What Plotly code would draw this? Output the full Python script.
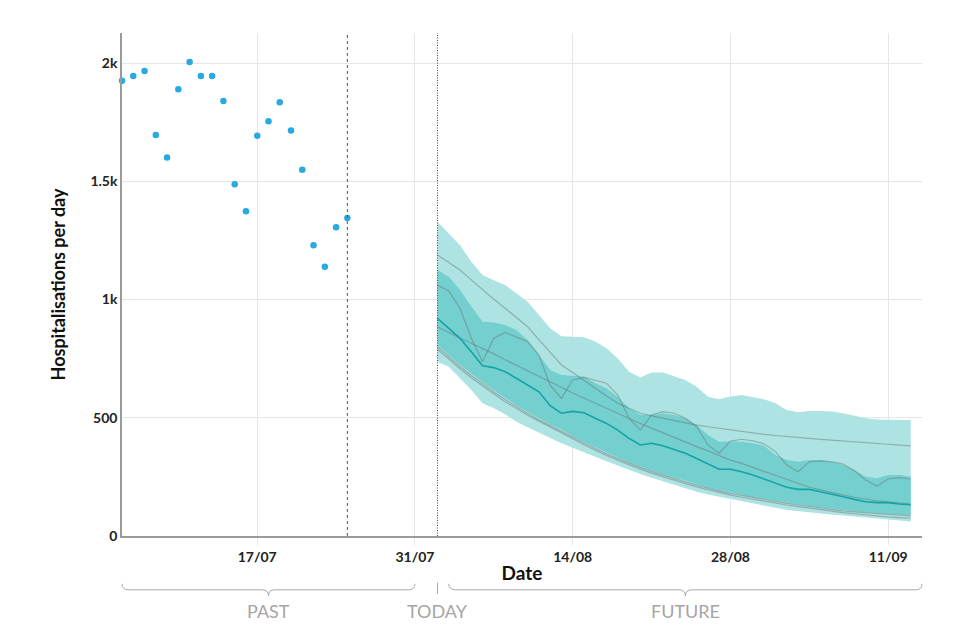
import pandas as pd
import plotly.graph_objects as go

# ---------------- data ----------------
past_start = "2021-07-05"
past_values = [1925, 1945, 1966, 1696, 1601, 1889, 2004, 1945, 1945, 1839, 1487,
               1373, 1693, 1754, 1834, 1715, 1549, 1230, 1139, 1306, 1345]

forecast_start = "2021-08-02"
median = [920, 880, 836, 779, 720, 712, 695, 667, 638, 610, 551, 519, 527, 521, 498,
          476, 448, 413, 385, 392, 382, 366, 350, 328, 304, 282, 282, 272, 258, 241,
          223, 206, 197, 197, 187, 178, 166, 155, 145, 141, 141, 135, 132]
outer_hi = [1329, 1280, 1230, 1160, 1104, 1082, 1061, 1026, 991, 934, 878, 845, 843,
            840, 822, 794, 751, 695, 670, 691, 691, 674, 660, 631, 589, 578, 590, 596,
            586, 578, 561, 533, 523, 529, 529, 526, 519, 509, 498, 493, 493, 493, 490]
outer_lo = [737, 716, 667, 617, 561, 540, 515, 483, 458, 436, 414, 392, 372, 353, 335,
            316, 297, 279, 262, 246, 230, 215, 201, 187, 176, 166, 157, 147, 137, 128,
            119, 110, 105, 100, 95, 90, 85, 81, 77, 73, 69, 65, 61]
inner_hi = [1125, 1096, 1040, 970, 906, 903, 892, 871, 829, 765, 702, 681, 677, 674,
            646, 625, 589, 540, 512, 512, 519, 512, 498, 469, 427, 399, 400, 399, 392,
            381, 342, 321, 314, 321, 321, 314, 300, 279, 251, 244, 258, 258, 251]
inner_lo = [808, 765, 724, 686, 650, 615, 583, 553, 524, 497, 472, 450, 423, 398, 375,
            353, 332, 312, 294, 277, 261, 246, 232, 219, 206, 194, 183, 174, 165, 156,
            148, 141, 134, 127, 121, 115, 110, 105, 101, 97, 94, 91, 89]
scen_weekly = [1061, 1036, 963, 836, 737, 836, 861, 843, 822, 765, 638, 582, 660, 671,
               660, 646, 596, 498, 448, 512, 526, 519, 498, 462, 385, 350, 401, 409,
               402, 389, 357, 300, 272, 314, 318, 314, 304, 276, 237, 211, 241, 247, 240]
scen_high = [1188, 1156, 1125, 1083, 1040, 1001, 963, 924, 885, 830, 775, 723, 691, 657,
             624, 592, 561, 540, 519, 508, 498, 488, 478, 469, 462, 455, 448, 441, 435,
             430, 425, 420, 416, 413, 409, 406, 402, 399, 395, 392, 388, 384, 381]
scen_mid = [885, 860, 836, 815, 794, 770, 745, 722, 700, 678, 655, 629, 605, 583, 562,
            540, 518, 497, 476, 456, 436, 416, 397, 378, 360, 340, 321, 307, 290, 272,
            254, 240, 220, 206, 195, 183, 173, 164, 155, 149, 144, 138, 135]
scen_low1 = [800, 758, 717, 679, 643, 609, 577, 547, 518, 491, 467, 445, 418, 393, 370,
             348, 328, 308, 290, 273, 257, 242, 228, 215, 202, 191, 180, 171, 162, 153,
             145, 138, 131, 124, 118, 112, 106, 102, 98, 94, 91, 88, 85]
scen_low2 = [790, 748, 707, 669, 633, 600, 568, 539, 511, 485, 461, 438, 411, 386, 363,
             341, 321, 301, 283, 266, 250, 235, 221, 208, 196, 184, 173, 164, 155, 146,
             138, 131, 124, 117, 111, 105, 99, 94, 89, 85, 81, 78, 75]

last_data_date = "2021-07-25"
today_date = "2021-08-02"
x_range = ["2021-07-05", "2021-09-14"]
y_range = [0, 2127]

x_tickvals = ["2021-07-17", "2021-07-31", "2021-08-14", "2021-08-28", "2021-09-11"]
x_ticktext = ["17/07", "31/07", "14/08", "28/08", "11/09"]
y_tickvals = [0, 500, 1000, 1500, 2000]
y_ticktext = ["0", "500", "1k", "1.5k", "2k"]

period_labels = ["PAST", "TODAY", "FUTURE"]
past_span = ["2021-07-05", "2021-07-31"]
future_span = ["2021-08-03", "2021-09-14"]

# ---------------- figure ----------------
past_dates = pd.date_range(past_start, periods=len(past_values), freq="D")
fc_dates = list(pd.date_range(forecast_start, periods=len(median), freq="D"))

FONT = "Lato"
band_outer = "#ade3e2"
band_inner = "#74cfcf"
grey_line = "rgba(105,110,110,0.45)"

fig = go.Figure()

fig.add_trace(go.Scatter(
    x=fc_dates + fc_dates[::-1], y=outer_hi + outer_lo[::-1],
    fill="toself", fillcolor=band_outer, line=dict(width=0),
    mode="lines", hoverinfo="skip", showlegend=False))
fig.add_trace(go.Scatter(
    x=fc_dates + fc_dates[::-1], y=inner_hi + inner_lo[::-1],
    fill="toself", fillcolor=band_inner, line=dict(width=0),
    mode="lines", hoverinfo="skip", showlegend=False))

for s in [scen_high, scen_weekly, scen_mid, scen_low1, scen_low2]:
    fig.add_trace(go.Scatter(x=fc_dates, y=s, mode="lines",
                             line=dict(color=grey_line, width=1.2),
                             showlegend=False))

fig.add_trace(go.Scatter(x=fc_dates, y=median, mode="lines",
                         line=dict(color="#15a3a6", width=1.6), showlegend=False))

fig.add_trace(go.Scatter(x=past_dates, y=past_values, mode="markers",
                         marker=dict(color="#29a9e1", size=6.5, line=dict(width=0)),
                         showlegend=False, cliponaxis=False))

# vertical reference lines
fig.add_shape(type="line", xref="x", yref="paper", x0=last_data_date, x1=last_data_date,
              y0=0, y1=1, line=dict(color="#555555", width=1, dash="3px,3px"))
fig.add_shape(type="line", xref="x", yref="paper", x0=today_date, x1=today_date,
              y0=0, y1=1, line=dict(color="#444444", width=1, dash="1px,1.5px"))

# braces below the axis (paper coordinates computed from dates)
x0r = pd.Timestamp(x_range[0]).value
x1r = pd.Timestamp(x_range[1]).value


def px(d):
    return (pd.Timestamp(d).value - x0r) / (x1r - x0r)


y_end, y_line, y_tip = -0.095, -0.107, -0.119
r = 0.008


def brace(a, b):
    xa, xb = px(a), px(b)
    xc = (xa + xb) / 2
    return (f"M {xa},{y_end} Q {xa},{y_line} {xa + r},{y_line} "
            f"L {xc - r},{y_line} Q {xc},{y_line} {xc},{y_tip} "
            f"Q {xc},{y_line} {xc + r},{y_line} "
            f"L {xb - r},{y_line} Q {xb},{y_line} {xb},{y_end}")


brace_style = dict(color="#a8a8a8", width=1)
fig.add_shape(type="path", xref="paper", yref="paper", path=brace(*past_span),
              line=brace_style)
fig.add_shape(type="path", xref="paper", yref="paper", path=brace(*future_span),
              line=brace_style)
fig.add_shape(type="line", xref="paper", yref="paper", x0=px(today_date), x1=px(today_date),
              y0=-0.093, y1=-0.115, line=brace_style)

label_pos = [
    (px(past_span[0]) + px(past_span[1])) / 2,
    px(today_date),
    (px(future_span[0]) + px(future_span[1])) / 2,
]
for lab, xp in zip(period_labels, label_pos):
    fig.add_annotation(text=lab, xref="paper", yref="paper", x=xp, y=-0.149,
                       showarrow=False, xanchor="center", yanchor="middle",
                       font=dict(family=FONT, size=18, color="#a5a5a5"))

fig.update_layout(
    width=952, height=632,
    margin=dict(l=114, r=38, t=25, b=104),
    plot_bgcolor="white", paper_bgcolor="white",
    font=dict(family=FONT, color="#222222"),
    xaxis=dict(
        range=x_range, type="date",
        tickvals=x_tickvals, ticktext=x_ticktext,
        tickfont=dict(family=FONT, size=14, color="#222222", weight="bold"),
        showgrid=True, gridcolor="#e6e6e6", gridwidth=1,
        ticks="outside", ticklen=7, tickcolor="#e6e6e6",
        showline=True, linecolor="#9a9a9a", linewidth=1.5,
        zeroline=False,
        title=dict(text="Date", font=dict(family=FONT, size=19, color="#111111", weight="bold"),
                   standoff=3),
    ),
    yaxis=dict(
        range=y_range,
        tickvals=y_tickvals, ticktext=y_ticktext,
        tickfont=dict(family=FONT, size=14, color="#222222", weight="bold"),
        showgrid=True, gridcolor="#e6e6e6", gridwidth=1,
        ticks="", showline=True, linecolor="#9a9a9a", linewidth=1.5,
        zeroline=False,
        title=dict(text="Hospitalisations per day",
                   font=dict(family=FONT, size=18, color="#111111", weight="bold"),
                   standoff=20),
    ),
)

fig.write_html("out.html")
